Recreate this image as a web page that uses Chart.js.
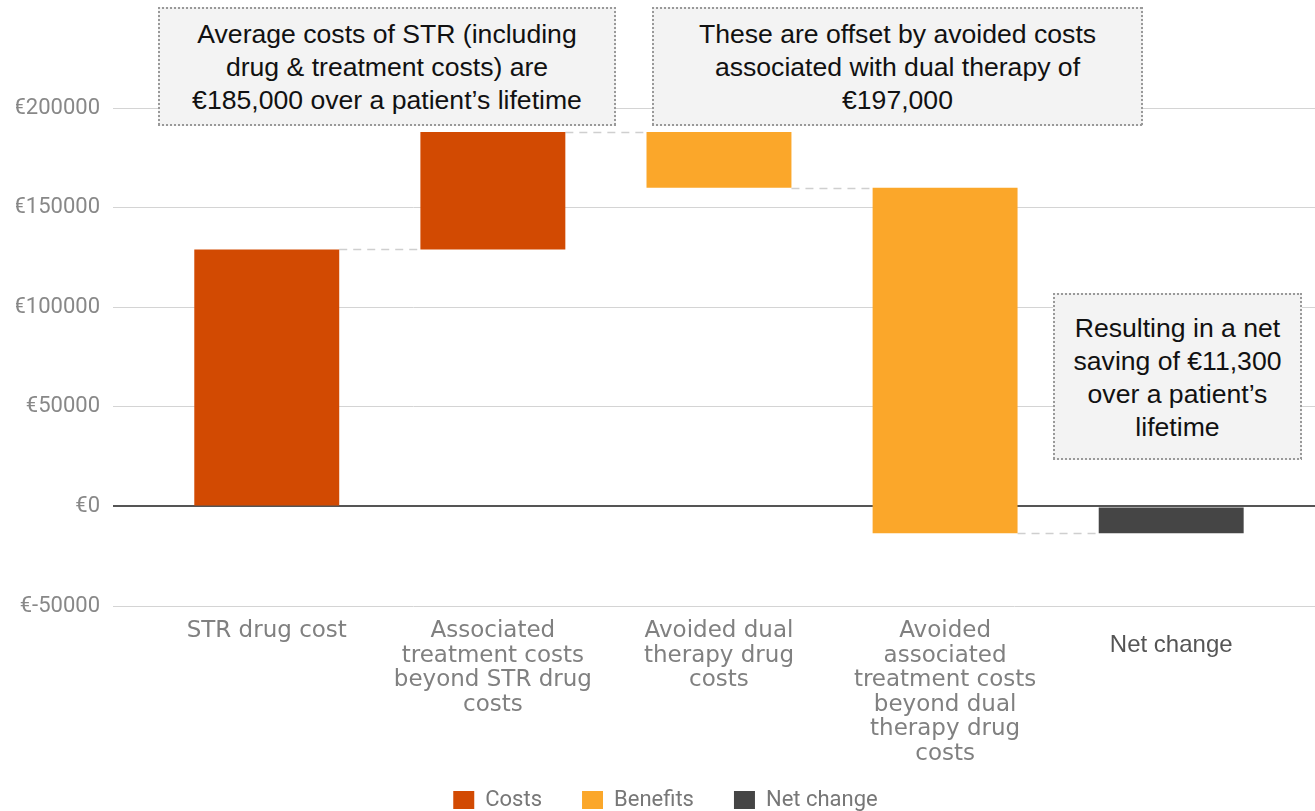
<!DOCTYPE html>
<html lang="en">
<head>
<meta charset="UTF-8">
<title>STR lifetime costs waterfall</title>
<script src="https://cdn.jsdelivr.net/npm/chart.js"></script>
<style>
  body { margin: 0; background: #fff; }
  .wrap { position: relative; width: 1315px; height: 811px; }
  /* dotted grey call-out boxes */
  .note {
    position: absolute;
    display: flex;
    align-items: center;
    justify-content: center;
    text-align: center;
    box-sizing: border-box;
    font-family: "Liberation Sans", Arial, sans-serif;
    font-size: 26.6px;
    line-height: 33px;
    color: #111;
    background-color: #f3f3f3;
    background-image:
      linear-gradient(to right, #999 2px, transparent 2px),
      linear-gradient(to right, #999 2px, transparent 2px),
      linear-gradient(to bottom, #999 2px, transparent 2px),
      linear-gradient(to bottom, #999 2px, transparent 2px);
    background-size: 4px 2px, 4px 2px, 2px 4px, 2px 4px;
    background-position: 0 0, 0 100%, 0 0, 100% 0;
    background-repeat: repeat-x, repeat-x, repeat-y, repeat-y;
  }
</style>
</head>
<body>
<div class="wrap">
  <canvas id="waterfall"></canvas>
  <div class="note" style="left:158px; top:7px; width:458px; height:119px; padding-top:2px;">Average costs of STR (including<br>drug &amp; treatment costs) are<br>€185,000 over a patient’s lifetime</div>
  <div class="note" style="left:652px; top:7px; width:491px; height:119px; padding-top:2px;">These are offset by avoided costs<br>associated with dual therapy of<br>€197,000</div>
  <div class="note" style="left:1053px; top:293px; width:249px; height:167px; padding-top:2px;">Resulting in a net<br>saving of €11,300<br>over a patient’s<br>lifetime</div>
</div>

<script>
// data
const categories = [
  'STR drug cost',
  ['Associated', 'treatment costs', 'beyond STR drug', 'costs'],
  ['Avoided dual', 'therapy drug', 'costs'],
  ['Avoided', 'associated', 'treatment costs', 'beyond dual', 'therapy drug', 'costs'],
  'Net change'
];
const barFrom = [0, 129000, 188000, 160000, 0];
const barTo = [129000, 188000, 160000, -13500, -13500];
const barKind = ['Costs', 'Costs', 'Benefits', 'Benefits', 'Net change'];
const kinds = ['Costs', 'Benefits', 'Net change'];
const kindColors = ['#d24a02', '#fba72a', '#454545'];
const yTicks = [-50000, 0, 50000, 100000, 150000, 200000];

const barShare = 0.641;

// dashed connectors between the ends of consecutive bars
const connectorLines = {
  id: 'connectorLines',
  beforeDatasetsDraw(chart) {
    const { ctx, scales: { x, y } } = chart;
    const half = (x.getPixelForValue(1) - x.getPixelForValue(0)) * barShare / 2;
    ctx.save();
    ctx.strokeStyle = '#cfcfcf';
    ctx.lineWidth = 1.5;
    ctx.setLineDash([8, 6]);
    for (let i = 0; i < categories.length - 1; i++) {
      const py = Math.round(y.getPixelForValue(barTo[i])) + 0.5;
      ctx.beginPath();
      ctx.moveTo(x.getPixelForValue(i) + half, py);
      ctx.lineTo(x.getPixelForValue(i + 1) - half, py);
      ctx.stroke();
    }
    ctx.restore();
  }
};

const datasets = kinds.map((k, j) => ({
  label: k,
  backgroundColor: kindColors[j],
  borderWidth: 0,
  categoryPercentage: 1,
  barPercentage: barShare,
  data: categories
    .map((c, i) => barKind[i] === k ? { x: i, y: [barFrom[i], barTo[i]] } : null)
    .filter(Boolean)
}));

new Chart(document.getElementById('waterfall'), {
  type: 'bar',
  data: { datasets },
  plugins: [connectorLines],
  options: {
    responsive: true,
    maintainAspectRatio: false,
    animation: false,
    layout: { padding: { top: 108, left: 16, right: 0, bottom: -10 } },
    plugins: {
      tooltip: { enabled: false },
      legend: {
        position: 'bottom',
        labels: {
          boxWidth: 21,
          boxHeight: 18,
          padding: 40,
          color: '#777',
          font: { family: 'Roboto', size: 22 }
        }
      }
    },
    scales: {
      x: {
        type: 'linear',
        stacked: true,
        offset: false,
        min: -0.68,
        max: 4.636,
        grid: { display: false },
        border: { display: false },
        afterBuildTicks: (scale) => { scale.ticks = categories.map((c, i) => ({ value: i })); },
        afterFit: (scale) => {
          scale.height = 143;
          // let the tallest label run below the axis box
          scale._computeLabelArea = () => undefined;
        },
        ticks: {
          autoSkip: false,
          maxRotation: 0,
          padding: 5,
          callback: (v) => categories[v],
          color: (ctx) => ctx.index === categories.length - 1 ? '#555' : '#808080',
          font: (ctx) => ctx.index === categories.length - 1
            ? { family: '"Liberation Sans", Arial, sans-serif', size: 24, lineHeight: '52px' }
            : { family: '"DejaVu Sans", sans-serif', size: 23, lineHeight: '24.5px' }
        }
      },
      y: {
        min: -50000,
        max: 200000,
        border: { display: false },
        afterBuildTicks: (scale) => { scale.ticks = yTicks.map(v => ({ value: v })); },
        afterFit: (scale) => { scale.width = 97; },
        grid: {
          drawTicks: false,
          color: (ctx) => ctx.tick && ctx.tick.value === 0 ? '#555' : '#d4d4d4',
          lineWidth: (ctx) => ctx.tick && ctx.tick.value === 0 ? 2 : 1
        },
        ticks: {
          padding: 13,
          color: '#888',
          font: { family: 'Roboto', size: 22 },
          callback: (v) => '€' + v
        }
      }
    }
  }
});
</script>
</body>
</html>
